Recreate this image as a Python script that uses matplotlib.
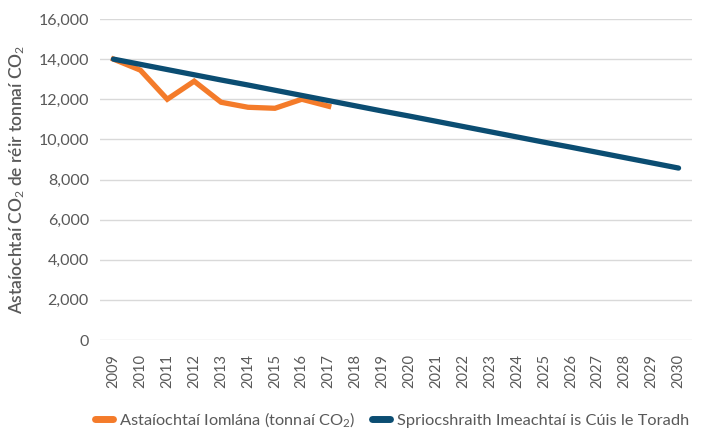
import numpy as np
import matplotlib.pyplot as plt

plt.rcParams['font.family'] = ['Lato', 'DejaVu Sans']
plt.rcParams['mathtext.fontset'] = 'custom'
plt.rcParams['mathtext.rm'] = 'Lato'
plt.rcParams['mathtext.it'] = 'Lato'
plt.rcParams['mathtext.bf'] = 'Lato:bold'

years = [str(y) for y in range(2009, 2031)]
actual = [14000, 13450, 12000, 12900, 11850, 11600, 11550, 12000, 11650]
target = [14000, 13740, 13480, 13220, 12960, 12710, 12450, 12190, 11930, 11670,
          11410, 11160, 10900, 10640, 10380, 10120, 9860, 9610, 9350, 9090,
          8830, 8570]

ORANGE = '#F47B2A'
BLUE = '#0B4D72'
GREY = '#595959'

fig = plt.figure(figsize=(7.06, 4.33), dpi=100)
ax = fig.add_axes([100/706, 1-340/433, 592/706, 321/433])

x = np.arange(len(years))
ax.plot(x[:len(actual)], actual, color=ORANGE, lw=3.8, solid_joinstyle='miter',
        label='Astaíochtaí Iomlána (tonnaí CO$_2$)')
ax.plot(x, target, color=BLUE, lw=3.8, solid_capstyle='round',
        label='Spriocshraith Imeachtaí is Cúis le Toradh')

ax.set_xlim(-0.5, len(years) - 0.5)
ax.set_ylim(0, 16000)
ax.set_yticks(range(0, 16001, 2000))
ax.set_yticklabels([f'{v:,}' for v in range(0, 16001, 2000)])
ax.set_xticks(x)
ax.set_xticklabels(years, rotation=90)
ax.grid(axis='y', color='#D9D9D9', lw=1)
ax.set_axisbelow(True)
for s in ax.spines.values():
    s.set_visible(False)
ax.tick_params(axis='both', length=0, colors=GREY)
ax.tick_params(axis='y', labelsize=11.5, pad=8)
ax.tick_params(axis='x', labelsize=10.5, pad=10)

ax.set_ylabel('Astaíochtaí CO$_2$ de réir tonnaí CO$_2$', fontsize=12.5,
              color=GREY, fontweight='semibold', labelpad=8)

leg = fig.legend(loc='center', bbox_to_anchor=(0.555, 1-420/433), ncol=2,
                 frameon=False, fontsize=11.8, handlelength=1.1, columnspacing=1.0,
                 handletextpad=0.4, labelcolor=GREY)
for line in leg.get_lines():
    line.set_linewidth(5)
    line.set_solid_capstyle('round')

fig.savefig('out.png', dpi=100)
